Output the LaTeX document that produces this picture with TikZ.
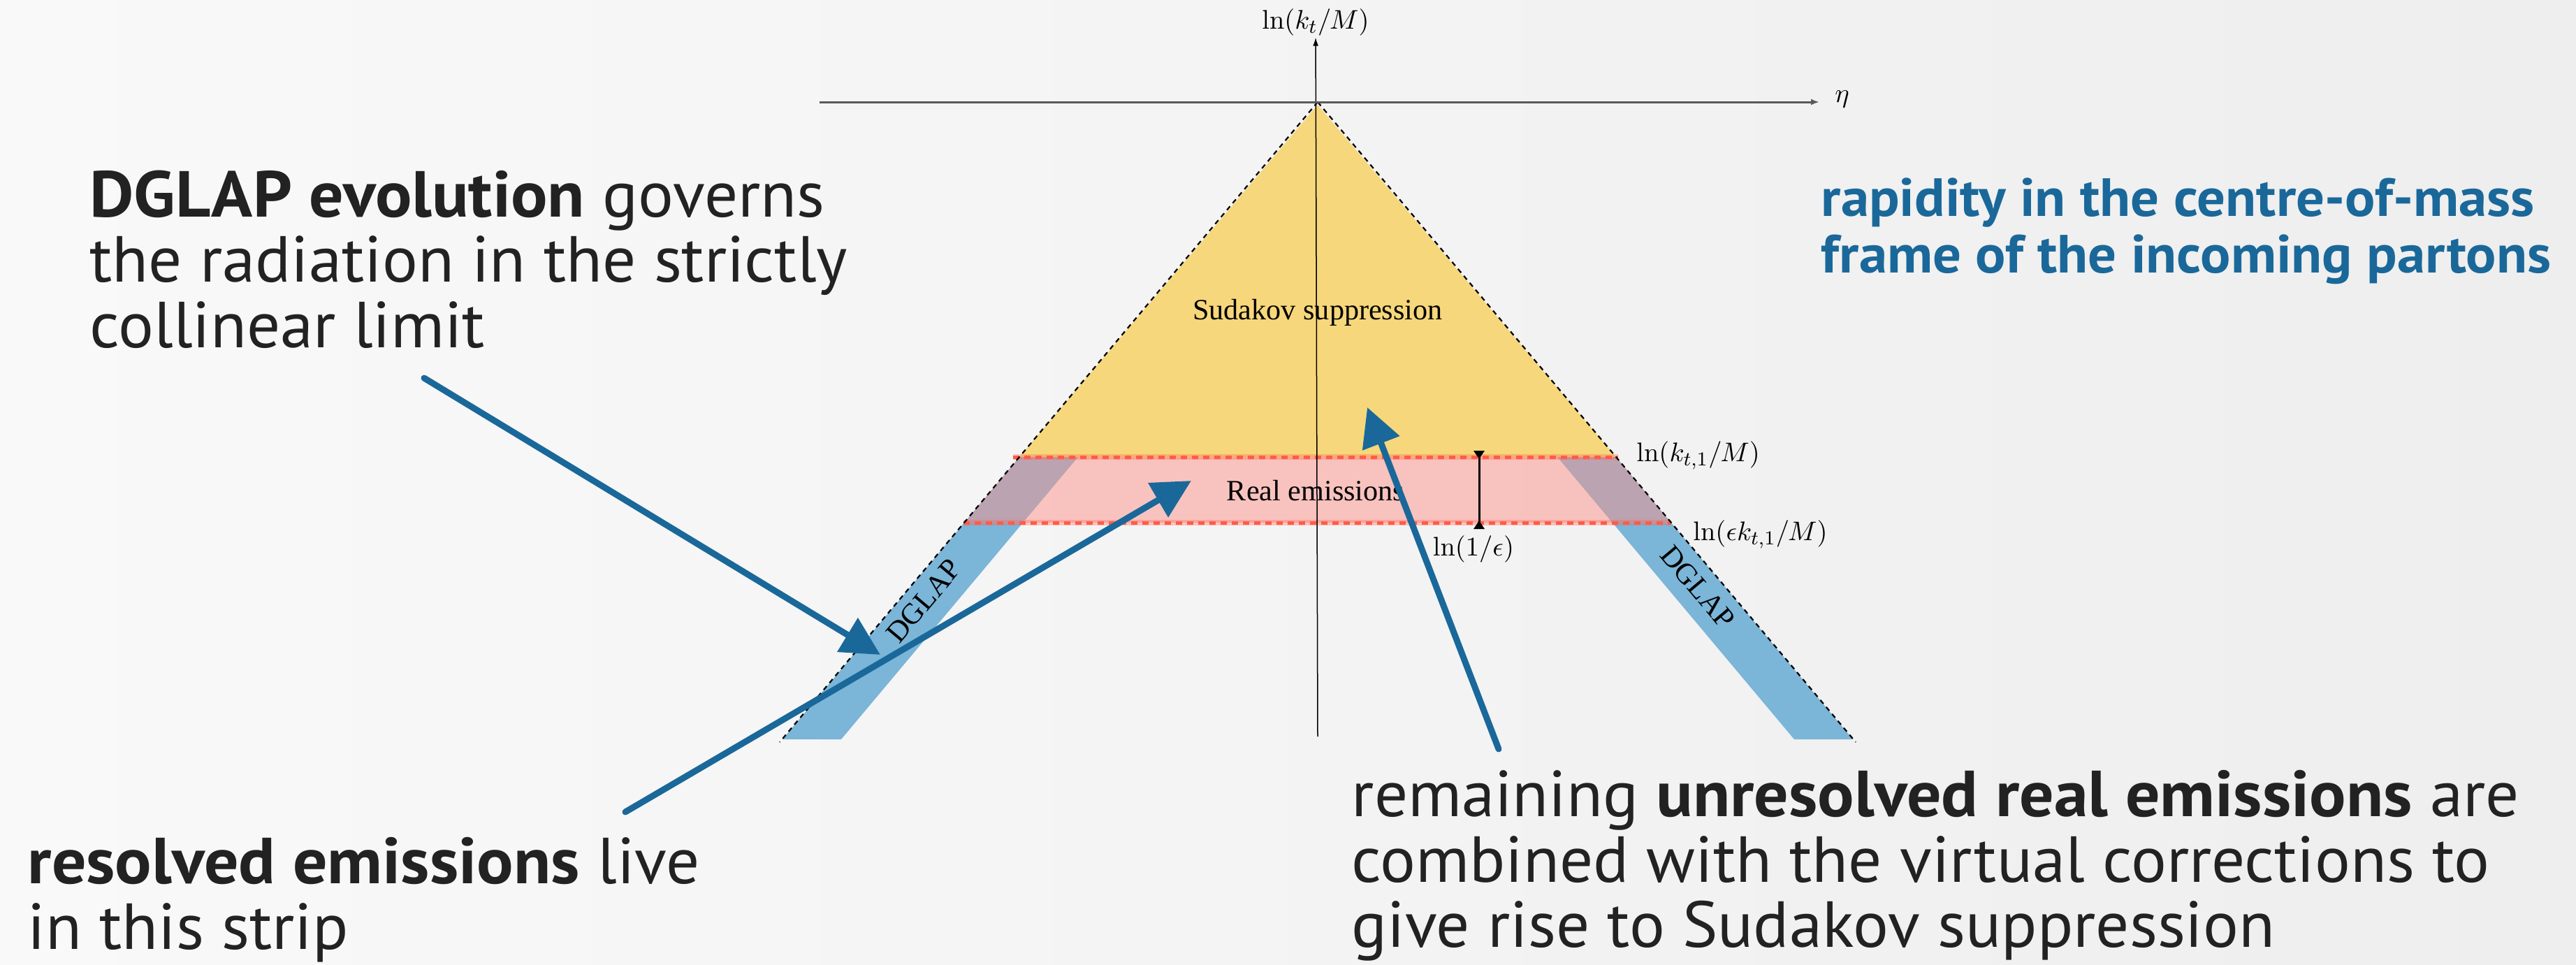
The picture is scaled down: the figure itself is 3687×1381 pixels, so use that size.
\documentclass[tikz,border=0pt]{standalone}
\usepackage[no-math]{fontspec}
\setmainfont{PT Sans}[FakeStretch=1.02, BoldFeatures={FakeStretch=1.05}]
\newfontfamily\seriflabel{Liberation Serif}
\usetikzlibrary{arrows.meta}

\definecolor{bgleft}{RGB}{249,249,249}
\definecolor{bgright}{RGB}{238,238,238}
\definecolor{sudyellow}{RGB}{246,215,123}
\definecolor{realred}{RGB}{253,147,139}
\definecolor{linered}{RGB}{255,92,72}
\definecolor{dglapblue}{RGB}{123,181,216}
\definecolor{calloutblue}{RGB}{26,104,154}
\definecolor{textgray}{RGB}{34,34,34}

\tikzset{
  axisline/.style={draw=black!65, line width=0.3mm, -{Latex[length=1.2mm,width=0.9mm]}},
  yaxisline/.style={draw=black, line width=0.15mm, -{Latex[length=1.2mm,width=0.8mm]}},
  coneedge/.style={draw=black, line width=0.22mm, dash pattern=on 0.7mm off 0.6mm},
  cutline/.style={draw=linered, line width=0.5mm, dash pattern=on 0.9mm off 0.7mm},
  cutband/.style={draw=linered, line width=0.8mm, opacity=0.3},
  measure/.style={draw=black, line width=0.3mm, {Triangle[reversed,length=1.2mm,width=1.5mm]}-{Triangle[reversed,length=1.2mm,width=1.5mm]}},
  lbl/.style={font=\seriflabel\fontsize{12}{14}\selectfont, inner sep=0pt},
  mlbl/.style={font=\fontsize{11}{13}\selectfont, inner sep=0.5pt},
  notetext/.style={font=\fontsize{26.5}{26.6}\selectfont, text=textgray, align=left, inner sep=0pt, anchor=north west},
  callout/.style={draw=calloutblue, line width=0.9mm, line cap=round, -{Triangle[length=5.5mm,width=5.5mm]}},
}

\begin{document}
\begin{tikzpicture}[x=0.1mm,y=-0.1mm]
\useasboundingbox (0,0) rectangle (3687,1381);
\fill[left color=bgleft, right color=bgright] (0,0) rectangle (3687,1381);

% regions
\coordinate (apex) at (1886,146);
\fill[sudyellow] (1886,150) -- (2313,654) -- (1459,654) -- cycle;
\fill[dglapblue] (1459,654) -- (1543,654) -- (1204,1058) -- (1120,1058) -- cycle;
\fill[dglapblue] (2313,654) -- (2229,654) -- (2568,1058) -- (2652,1058) -- cycle;
\fill[realred, opacity=0.5] (1459,654) -- (2313,654) -- (2392,748) -- (1380,748) -- cycle;

% cut lines
\draw[cutband] (1450,654) -- (2316,654);
\draw[cutband] (1379,748) -- (2392,748);
\draw[cutline] (1450,654) -- (2316,654);
\draw[cutline] (1379,748) -- (2392,748);

% edges of the cone
\coordinate (lfoot) at (1116,1062);
\coordinate (rfoot) at (2656,1062);
\draw[coneedge] (apex) -- (lfoot);
\draw[coneedge] (apex) -- (rfoot);

% axes
\node[mlbl] (ylab) at (1883,32) {$\ln(k_t/M)$};
\node[mlbl, anchor=base west] (xlab) at (2624,146) {$\eta$};
\coordinate (ybot) at (1886,1054);
\coordinate (xleft) at (1173,146);
\draw[yaxisline] (ybot) -- (ylab);
\draw[axisline, shorten >=2mm] (xleft) -- (xleft -| xlab.west);

% strip width
\coordinate (mtop) at (2117,645);
\coordinate (mbot) at (2117,757);
\draw[measure] (mtop) -- (mbot);
\node[mlbl, anchor=north] (meps) at (2109,764) {$\ln(1/\epsilon)$};
\node[mlbl, anchor=west] (kt1) at (2340,652) {$\ln(k_{t,1}/M)$};
\node[mlbl, anchor=west] (ekt1) at (2421,765) {$\ln(\epsilon k_{t,1}/M)$};

% region labels
\node[lbl] (sud) at (1886,447) {Sudakov suppression};
\node[lbl] (real) at (1883,702) {Real emissions};
\node[lbl, rotate=50] (dgl) at (1322,860) {DGLAP};
\node[lbl, rotate=-50] (dgr) at (2430,840) {DGLAP};

% notes
\node[notetext] (dglap) at (128,243) {\textbf{DGLAP evolution} governs\\the radiation in the strictly\\collinear limit};
\node[notetext, text=calloutblue, font=\bfseries\fontsize{21.9}{23}\selectfont] (rap) at (2606,254) {rapidity in the centre-of-mass\\frame of the incoming partons};
\node[notetext] (res) at (39,1198) {\textbf{resolved emissions} live\\in this strip};
\node[notetext] (unres) at (1934,1102) {remaining \textbf{unresolved real emissions} are\\combined with the virtual corrections to\\give rise to Sudakov suppression};

% callouts
\coordinate (a1s) at (607,541);
\coordinate (a1e) at (1260,937);
\coordinate (a2s) at (895,1162);
\coordinate (a2e) at (1705,688);
\coordinate (a3s) at (2145,1072);
\coordinate (a3e) at (1957,583);
\draw[callout] (a1s) -- (a1e);
\draw[callout] (a2s) -- (a2e);
\draw[callout] (a3s) -- (a3e);
\end{tikzpicture}
\end{document}
